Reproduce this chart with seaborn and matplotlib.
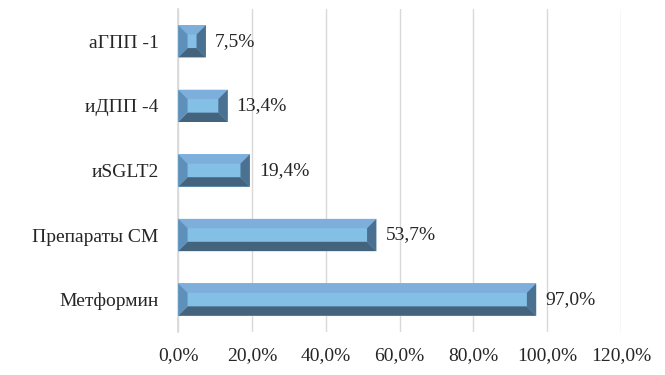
import numpy as np
import pandas as pd
import matplotlib
matplotlib.use("Agg")
import matplotlib.pyplot as plt
import matplotlib.ticker as ticker
from matplotlib.patches import Polygon
import seaborn as sns

# Данные
categories = ["аГПП -1", "иДПП -4", "иSGLT2", "Препараты СМ", "Метформин"]
values = [7.5, 13.4, 19.4, 53.7, 97.0]
x_ticks = [0, 20, 40, 60, 80, 100, 120]

df = pd.DataFrame({"cat": categories, "val": values})

sns.set_theme(style="white")
plt.rcParams["font.family"] = ["Liberation Serif", "DejaVu Serif"]

fig, ax = plt.subplots(figsize=(6.65, 3.75), dpi=100)
fig.subplots_adjust(left=0.268, right=0.934, top=0.976, bottom=0.115)

sns.barplot(data=df, x="val", y="cat", orient="h", color="#84BFE6",
            saturation=1, width=0.5, ax=ax, zorder=3, linewidth=0)

ax.set_xlim(0, 120)
ax.set_ylim(4.5, -0.5)
ax.set_xticks(x_ticks)
ax.xaxis.set_major_formatter(ticker.FuncFormatter(lambda v, p: f"{v:.1f}%".replace(".", ",")))
ax.grid(axis="x", color="#D9D9D9", linewidth=1, zorder=0)
ax.set_xlabel("")
ax.set_ylabel("")
for s in ["top", "right", "bottom"]:
    ax.spines[s].set_visible(False)
ax.spines["left"].set_color("#D9D9D9")
ax.tick_params(axis="both", length=0, labelsize=14, colors="#262626")
ax.tick_params(axis="y", pad=14)
ax.tick_params(axis="x", pad=11)

# эффект фаски
fig.canvas.draw()
px_per_x = ax.transData.transform((1, 0))[0] - ax.transData.transform((0, 0))[0]
for bar, v in zip(ax.patches, values):
    x0, y0 = bar.get_x(), bar.get_y()
    w, h = bar.get_width(), bar.get_height()
    by = h * 0.29
    bx = by * 64.5 / px_per_x  # пиксели на категорию примерно 64.5
    x1, y1 = x0 + w, y0 + h
    ix0, ix1 = x0 + bx, x1 - bx
    iy0, iy1 = y0 + by, y1 - by
    # y инвертирован: y0 сверху
    faces = [
        ([(x0, y0), (x1, y0), (ix1, iy0), (ix0, iy0)], "#7DAEDC"),
        ([(x0, y1), (x1, y1), (ix1, iy1), (ix0, iy1)], "#44647E"),
        ([(x0, y0), (ix0, iy0), (ix0, iy1), (x0, y1)], "#5F90BA"),
        ([(x1, y0), (ix1, iy0), (ix1, iy1), (x1, y1)], "#4A7191"),
    ]
    for pts, c in faces:
        ax.add_patch(Polygon(pts, closed=True, facecolor=c, edgecolor="none", zorder=4))
    ax.text(x1 + 9 / px_per_x, y0 + h / 2, f"{v:.1f}%".replace(".", ","),
            va="center", ha="left", fontsize=14, color="#262626", zorder=5)

fig.savefig("out.png", dpi=100)
